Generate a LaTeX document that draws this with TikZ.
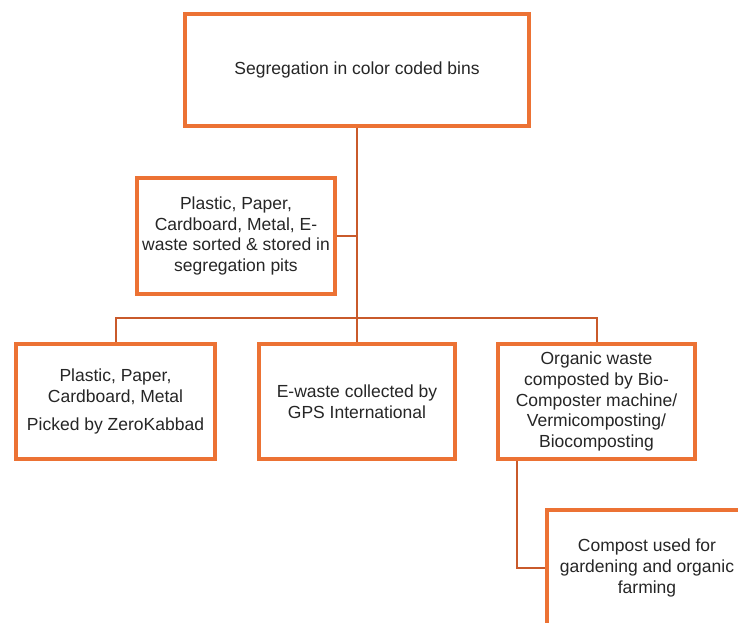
\documentclass[tikz,border=0pt]{standalone}
\usepackage{fontspec}
\setmainfont{Liberation Sans}
\usetikzlibrary{shadows}
\definecolor{boxorange}{HTML}{EC7234}
\definecolor{linkorange}{HTML}{C95A2B}
\definecolor{textgray}{HTML}{262626}
\tikzset{
	box/.style={draw=boxorange, line width=3.6pt, fill=white, align=center, inner sep=2pt,
		text=textgray, font=\fontsize{17.5}{20.8}\selectfont,
		drop shadow={opacity=0.25, shadow xshift=1.5pt, shadow yshift=-1.5pt}},
	link/.style={draw=linkorange, line width=2pt}
}

\begin{document}
\begin{tikzpicture}[x=1pt,y=-1pt]
	\useasboundingbox (0,0) rectangle (738,622);
	\clip (0,0) rectangle (738,622);
	% boxes
	\node[box, minimum width=344pt, minimum height=112pt] (bins) at (357,70) {Segregation in color coded bins};
	\node[box, minimum width=198pt, minimum height=116pt] (pits) at (236,236) {Plastic, Paper,\\Cardboard, Metal, E-\\waste sorted \& stored in\\segregation pits};
	\node[box, minimum width=199pt, minimum height=115pt] (pick) at (115.5,401.5) {Plastic, Paper,\\Cardboard, Metal\\[7pt]Picked by ZeroKabbad};
	\node[box, minimum width=196pt, minimum height=115pt] (ewaste) at (357,401.5) {E-waste collected by\\GPS International};
	\node[box, minimum width=197pt, minimum height=115pt] (organic) at (596.5,401.5) {Organic waste\\composted by Bio-\\Composter machine/\\Vermicomposting/\\Biocomposting};
	\node[box, minimum width=200pt, minimum height=116pt] (compost) at (647,568) {Compost used for\\gardening and organic\\farming};
	\coordinate (bus) at (357,318);
	% connectors
	\draw[link] (bins.south) -- (bus);
	\draw[link] (pits.east) -- (pits.east -| bus);
	\draw[link] (pick.north) |- (bus) -| (organic.north);
	\draw[link] (bus) -- (ewaste.north);
	\draw[link] ([xshift=21pt]organic.south west) |- (compost.west);
\end{tikzpicture}
\end{document}
